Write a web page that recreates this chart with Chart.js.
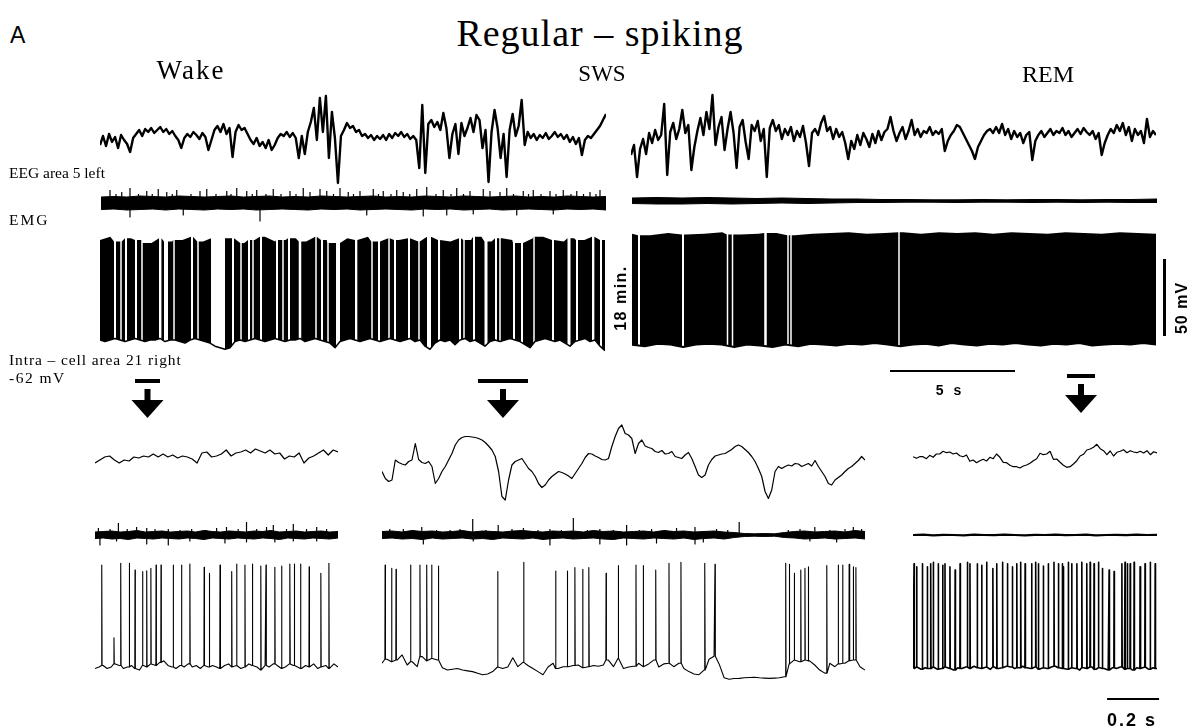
<!DOCTYPE html>
<html lang="en">
<head>
<meta charset="utf-8">
<title>Regular – spiking</title>
<script src="https://cdn.jsdelivr.net/npm/chart.js@4.4.1/dist/chart.umd.min.js"></script>
<style>
  html, body { margin: 0; padding: 0; background: #fff; }
  #page { position: relative; width: 1194px; height: 728px; overflow: hidden; background: #fff; }
  #page canvas { position: absolute; z-index: 1; }
  .lbl { position: absolute; white-space: nowrap; line-height: 1; color: #000; z-index: 5; }
  .serif { font-family: "Liberation Serif", "Times New Roman", serif; }
  .bold { font-family: "Liberation Sans", Arial, sans-serif; font-weight: bold; }
  .rot { text-align: center; transform: rotate(-90deg); }
</style>
</head>
<body>
<div id="page">
  <div class="lbl" style="left:10px;top:24px;font-family:'Liberation Sans',Arial,sans-serif;font-size:23px">A</div>
  <div class="lbl serif" style="left:350px;width:500px;text-align:center;top:14px;font-size:38px;letter-spacing:1px">Regular – spiking</div>
  <div class="lbl serif" style="left:121px;width:140px;text-align:center;top:57px;font-size:27px;letter-spacing:2px">Wake</div>
  <div class="lbl serif" style="left:542px;width:120px;text-align:center;top:62px;font-size:23px">SWS</div>
  <div class="lbl serif" style="left:988px;width:120px;text-align:center;top:62px;font-size:24px">REM</div>
  <div class="lbl serif" style="left:9px;top:165px;font-size:15.5px">EEG area 5 left</div>
  <div class="lbl serif" style="left:9px;top:212px;font-size:15.5px;letter-spacing:2px">EMG</div>
  <div class="lbl serif" style="left:9px;top:352px;font-size:15.5px;letter-spacing:0.9px">Intra – cell area 21 right</div>
  <div class="lbl serif" style="left:9px;top:370px;font-size:15.5px;letter-spacing:1.5px">-62 mV</div>
  <div class="lbl bold rot" style="left:581px;top:290px;width:80px;height:16px;font-size:16px;line-height:16px;letter-spacing:1.5px">18 min.</div>
  <div class="lbl bold rot" style="left:1142px;top:300px;width:80px;height:16px;font-size:16px;line-height:16px;letter-spacing:1px">50 mV</div>
  <div class="lbl bold" style="left:910px;width:80px;text-align:center;top:383px;font-size:14px;letter-spacing:3px">5 s</div>
  <div class="lbl bold" style="left:1107px;top:711px;font-size:18px;letter-spacing:2px">0.2 s</div>
</div>

<script>
const page = document.getElementById('page');

// ---------- slow sweep: Wake + SWS (left) and REM 18 min later (right) ----------
const wakeSwsDur = 20.2;   // s
const remDur = 20.96;      // s

// EEG area 5 (arbitrary units, up = positive)
const eegWakeSws = [-3,6,-4,8,0,5,-6,7,2,-2,-10,4,
  8,12,6,13,10,14,9,12,15,10,13,8,11,6,2,
  -6,4,8,5,10,7,3,9,5,-8,2,
  12,16,10,18,8,14,-15,10,17,12,14,8,
  2,-2,4,-4,0,-6,2,-8,-3,4,
  8,6,10,5,9,4,-16,6,-12,10,
  20,34,2,44,10,46,-16,30,4,-41,6,
  12,19,14,16,10,12,6,8,4,7,2,6,
  3,7,2,8,4,9,6,10,5,8,3,6,2,
  -26,37,-31,18,22,15,20,12,29,14,-16,8,
  18,-12,19,6,14,24,10,27,22,-6,12,-40,
  10,32,14,-16,8,-35,12,28,6,16,42,-3,
  10,4,8,2,7,4,9,3,6,10,5,8,
  3,7,0,5,-2,4,-13,2,6,4,8,12,16,22,28];
const eegRem = [-18,-8,-40,-12,-2,-17,4,-6,7,-3,2,33,
  -38,5,14,-2,8,27,4,12,-33,-10,6,
  19,2,25,8,42,-8,10,20,
  -13,8,25,4,-31,10,17,-5,-22,12,6,16,-4,8,-40,9,17,
  6,12,-2,8,2,10,-4,6,0,11,-6,-29,4,8,2,14,21,6,10,-2,8,0,5,-6,
  -22,-4,-12,2,-8,4,-2,-10,3,-6,6,-3,5,8,20,6,-4,
  4,10,-2,6,17,2,8,0,6,4,10,2,6,3,8,-14,-4,2,
  6,12,10,4,-2,-8,-14,-22,-10,-4,2,6,8,4,
  10,4,13,2,8,-2,6,0,4,-6,2,5,-23,-4,2,6,0,4,8,2,
  6,4,9,2,6,0,4,8,3,9,5,2,6,-2,4,-18,-6,2,8,4,
  12,6,14,2,10,-4,8,2,6,-6,18,0,6,2];

// EMG: band edges plus single deflections [time s, amplitude]
const emgWakeSwsUp = [6,6.5,6,7,6.5,6,7,6.5,6,6.5, 7,6,6.5,7,6,6.5,6,7,6.5,6, 6.5,7,6,6.5,6,7,6.5,6,7,6.5, 6,6.5,7,6,6.5,6,7,6.5,6,6.5];
const emgWakeSwsDn = [-6.5,-6,-7,-6.5,-6,-7,-6,-6.5,-7,-6, -6.5,-6,-7,-6.5,-6,-6.5,-7,-6,-6.5,-6, -7,-6.5,-6,-6.5,-7,-6,-6.5,-6,-7,-6.5, -6,-7,-6.5,-6,-6.5,-7,-6,-6.5,-6,-7];
const emgWakeSwsTicks = [[0.36,13],[0.6,9],[0.83,11],[1.16,15],[1.16,-14],[1.5,9],[1.83,12],[2.05,9],[2.29,14],[2.63,11],
  [2.85,9],[3.03,13],[3.29,-12],[3.6,9],[3.96,12],[4.23,14],[4.6,9],[5.03,12],[5.2,9],[5.43,15],[5.83,12],[6.05,9],
  [6.23,13],[6.36,-18],[6.6,9],[6.89,14],[7.2,9],[7.56,12],[7.8,9],[8.09,15],[8.36,11],[8.76,14],[9.03,12],[9.3,9],
  [9.56,15],[9.89,11],[10.1,9],[10.36,12],[10.63,-12],[10.89,14],[11.1,9],[11.29,12],[11.6,9],[11.83,13],[12.09,11],
  [12.35,9],[12.63,14],[12.89,-13],[13.03,16],[13.4,9],[13.69,13],[13.83,-12],[14.0,9],[14.23,15],[14.5,9],[14.76,12],
  [14.89,-11],[15.29,14],[15.56,12],[15.96,11],[16.23,15],[16.5,9],[16.63,-12],[16.89,12],[17.1,9],[17.29,13],[17.6,9],
  [17.96,12],[18.09,-11],[18.2,9],[18.49,13],[18.8,9],[19.03,12],[19.3,9],[19.56,11],[19.8,9],[19.96,13]];
const emgRemUp = [3,3.5,3,3.5,3,2.5,3,2.5,2,2,1.5,1.5,1.2,1.2,1.5,1.2,1.5,1.5,1.2,1.5,1.5,2];
const emgRemDn = [-2.5,-3,-3,-2.5,-3,-2.5,-2,-2.5,-2,-1.5,-1.5,-1.2,-1.2,-1.5,-1.2,-1.2,-1.5,-1.2,-1.5,-1.2,-1.5,-1.5];

// intracellular, mV: spike tops, membrane floor, silent gaps [start, end] s
const intraWakeSwsTop = [3,5,2,4,3,1,4,2,3,5,2,4,3,4,1,3,5,2,3,4,2,5,3,1,4,3,5,2,4,3,4,2,5,3,2,4,3,5,2,4,3,1,4,5,3,2,4,3,5,3];
const intraWakeSwsBase = [-62,-63,-62,-61,-62,-63,-62,-61,-62,-63,-62,-62,-61,-63,-62,-62,-63,-64,-62,-61,-62,
  -63,-64,-66,-67,-68,-67,-63,-62,-63,-62,
  -61,-62,-63,-62,-61,-62,-63,-62,-62,-61,-63,-62,-61,-62,-63,-64,
  -67,-63,-62,-61,-62,-63,-62,-61,-62,-63,-62,-61,-62,-63,
  -62,-61,-63,-62,-66,-68,-64,-62,-63,-62,
  -65,-62,-61,-63,-62,-64,-66,-63,-62,-63,
  -62,-61,-62,-63,-65,-67,-63,-62,-61,-62,-63,-62,
  -64,-66,-63,-62,-61,-63,-62,-66,-69];
const intraWakeSwsGaps = [[0.56,0.64],[0.81,0.87],[1.00,1.08],[1.40,1.48],[1.65,1.71],[2.36,2.44],[2.56,2.72],[2.93,2.99],
  [3.64,3.72],[3.89,3.95],[4.44,5.00],[5.28,5.36],[5.61,5.67],[5.92,6.00],[6.09,6.15],[6.40,6.48],[7.04,7.12],[7.29,7.35],
  [7.52,7.60],[7.95,8.05],[8.61,8.67],[8.84,8.92],[9.09,9.15],[9.44,9.60],[10.20,10.28],[10.85,10.91],[11.12,11.20],
  [11.53,11.59],[11.76,11.84],[12.32,12.40],[12.73,12.79],[13.08,13.24],[13.52,13.60],[14.36,14.44],[14.53,14.59],
  [14.92,15.00],[15.38,15.50],[15.80,15.88],[15.97,16.03],[16.52,16.60],[16.84,16.92],[17.33,17.39],[18.08,18.16],
  [18.70,18.82],[19.04,19.12],[19.68,19.76],[20.00,20.08]];
const intraRemTop = [7,6,7.5,6.5,7,8,6.5,7,7.5,6,7,7.5,8,7,7.5,8,7,8,7.5,8,7,8,7.5,7,8,7.5,7,8,7.5,7];
const intraRemBase = [-65,-66,-64.5,-65,-66.5,-65,-64.5,-65,-66.5,-65,-65.5,-66.5,-65,-66,-64.5,-65,-65.5,-64.5,-65,-64,-65,
  -66,-65,-64.5,-65.5,-64,-65,-65.5,-64.5,-65,-64,-65,-65.5,-64.5,-65,-64,-65.5,-65,-64.5,-65,-64,-65];
const intraRemGaps = [[0.24,0.32],[2.00,2.08],[3.79,3.85],[3.99,4.05],[5.29,5.39],[6.21,6.27],[6.33,6.39],[10.65,10.71]];

const wakeSwsMarks = [[1.4, 2.4], [15.12, 17.12]];   // segments expanded below, s
const remMark = [17.4, 18.52];
const timeBar = [10.32, 15.32];                       // 5 s
const mvBar = [-59.4, -9.4];                          // 50 mV

// ---------- expanded segments ----------
const wakeDur = 0.935, swsDur = 1.858, remZoomDur = 0.938;   // s

const eegWake = [-5,-2,1,2,-2,-5,-2,-3,1,0,2,1,4,1,4,1,3,0,2,1,-1,-5,5,6,1,2,4,8,2,5,6,8,5,9,7,5,8,4,5,-1,2,1,5,-5,0,2,5,8,3,8,6];
const eegSws = [-11.5,-18.5,-21.5,-20,0,-2.5,-4,-5,-1.5,0,16.5,0.5,-2.5,-3.5,-1.5,-6.5,-23.5,-18.5,-11.5,-6.5,
  0,6.5,15,20,22.5,23.5,23.5,23,22.5,21.5,20,17.5,14,10,3.5,-11.5,-36.5,-40,-20,-5,
  -1.5,0,1.5,-3.5,-8.5,-11.5,-16.5,-23.5,-27.5,-25,-20,-16.5,-14,-11.5,-12.5,-14,-16,-18.5,-13.5,-8.5,
  -3.5,2.5,6.5,6,4,2.5,0.5,0,1.5,13.5,23.5,31.5,35,26.5,25,21.5,6.5,16.5,20,14,
  12.5,11.5,8.5,7.5,9.5,6,6.5,8.5,3.5,2.5,1.5,5,7.5,1.5,-6.5,-15,-17.5,-15,-5,0.5,
  4,5,6,6.5,8.5,10.5,13.5,15,13.5,10.5,7.5,3.5,-1.5,-8.5,-16.5,-31.5,-38.5,-30,-11.5,-6.5,
  -8.5,-6.5,-5,-6,-3.5,-4,-6.5,-5,-3.5,-6,-0.5,-6.5,-11.5,-16.5,-23.5,-25,-20,-17.5,-15,-11.5,
  -8.5,-6.5,-3.5,-0.5,3.5,0];
const eegRemZoom = [0.3,-1.3,0.3,0.3,-1.7,1.7,-0.3,3,3,5.7,4.3,5,3,4,1.3,0.3,2,-4.3,-3,-5.7,
  -3.7,-2.3,-4,-0.3,-1.7,3,-0.3,-5.3,-5.7,-8.3,-9.7,-9.7,-11,-9,-8,-6.3,-3.7,-1.7,3.7,2.3,
  3,5.7,-2.3,-2,-5.3,-8.3,-10.3,-9.7,-7,-3.7,1,2.7,7,8,9.7,12.7,8.3,6.3,2.3,6,
  1,4.7,5.7,7.3,4.3,6.3,5,4.3,5.7,4,6.3,2.3,5.3,4];

const emgWakeUp = [3,3.5,4,3,3.5,4.5,3,3.5,4,3, 3.5,4,3,4.5,3.5,3,4,3.5,3,4, 3.5,4.5,3,3.5,4,3,3.5,4,3,3.5];
const emgWakeDn = [-3.5,-3,-4,-3.5,-4.5,-3,-3.5,-4,-3,-3.5, -4,-3,-3.5,-4.5,-3,-3.5,-4,-3,-3.5,-4, -3,-3.5,-4.5,-3,-3.5,-4,-3,-3.5,-4,-3];
const emgWakeTicks = [[0.013,7],[0.019,-10],[0.058,6],[0.083,-6],[0.090,12],[0.124,6],[0.160,8],[0.199,7],[0.199,-9],
  [0.231,6],[0.282,6],[0.282,-10],[0.327,5],[0.365,-6],[0.372,6],[0.429,5],[0.468,7],[0.500,-8],[0.506,8],[0.551,6],
  [0.583,13],[0.583,-7],[0.622,6],[0.660,8],[0.686,10],[0.692,-7],[0.737,6],[0.763,11],[0.763,-6],[0.814,6],[0.853,8],
  [0.853,-6],[0.891,6]];
const emgSwsUp = [3.5,4,3,4.5,3.5,4,3,3.5,4.5,3, 4,3.5,3,4,4.5,3.5,3,4,3.5,4, 3,4.5,3.5,4,3,3.5,4,3,4.5,3.5,
  4,3,3.5,4,3,2.5,1.5,1.2,1.5,1.2, 2.5,3.5,4,3,3.5,4,3,4.5,3.5];
const emgSwsDn = [-3.5,-3,-4,-3.5,-4.5,-3,-4,-3.5,-3,-4, -3.5,-4.5,-3,-3.5,-4,-3,-4.5,-3.5,-3,-4, -3.5,-3,-4,-4.5,-3,-3.5,-4,-3,-3.5,-4,
  -3,-4.5,-3.5,-3,-4,-2.5,-1.5,-1.2,-1.5,-1.2, -2.5,-3,-4,-3.5,-3,-4,-3.5,-3,-4];
const emgSwsTicks = [[0.030,6],[0.082,6],[0.120,5],[0.153,8],[0.159,-9],[0.210,5],[0.262,5],[0.300,6],[0.349,16],[0.351,-6],
  [0.400,5],[0.447,10],[0.500,6],[0.544,7],[0.600,5],[0.646,6],[0.646,-10],[0.690,5],[0.736,17],[0.790,5],[0.838,6],
  [0.838,-9],[0.890,5],[0.941,10],[0.941,-10],[0.990,5],[1.037,6],[1.056,-8],[1.090,5],[1.133,7],[1.204,8],[1.204,-9],
  [1.236,-7],[1.287,6],[1.330,5],[1.374,13],[1.563,5],[1.608,6],[1.646,-6],[1.665,8],[1.723,5],[1.749,-7],[1.781,6],
  [1.813,8],[1.845,6]];
const emgRemZoom = [0,0.4,-0.3,0.2,0,-0.4,0.3,0,-0.2,0.4,0,-0.3,0.2,0,0.3,-0.2,0,0.4,-0.3,0,0.2,-0.2,0.3,0,0.1];

// membrane potential (mV) between spikes, spike times (s) and spike peaks (mV)
const vmWake = [-63,-62,-61,-63,-62,-60,-61,-63,-62,-61,-63,-64,-61,-62,-60,-61,-59,-58,-61,-62,-63,-61,-62,-60,-62,-61,-63,-61,-62,-61,
  -62,-63,-61,-60,-62,-61,-63,-62,-60,-61,-62,-64,-61,-62,-60,-61,-63,-62,-60,-61,-62,-63,-61,-62,-60,-63,-62,-61,-63,-60,-62];
const spikeTWake = [0.026,0.073,0.099,0.132,0.154,0.183,0.199,0.215,0.235,0.254,0.301,0.333,0.365,0.420,0.440,
  0.481,0.526,0.545,0.577,0.605,0.638,0.658,0.692,0.718,0.750,0.767,0.791,0.824,0.869,0.900];
const spikePkWake = [4.2,-43,5.3,5.3,1,-0.1,0.5,2.1,4.2,4.2,4.2,4.2,4.9,2.7,-1.2,4.2,-0.1,4.9,4.2,4.9,3.6,4.2,2.7,3.6,4.9,4.9,4.9,3.1,-1.2,5.3];

const vmSws = [-59.6,-57,-58.6,-57.5,-54.2,-60.7,-58.6,-61.8,-55.3,-58,-56.5,-57.5,-62.5,-64,-63.5,-63,-64,-64.5,-65,-66,
  -67,-66.5,-65,-62,-63,-62,-56,-61.8,-59,-61,-63,-65,-67,-62,-59.6,-63,-61.8,-61.8,-61,-60.7,
  -62.5,-61.8,-61,-61.5,-60.7,-57.5,-61.8,-56.3,-63,-62,-61.5,-59.6,-61.8,-60,-57.5,-62,-60,-59.6,-61.8,-59.6,
  -63,-65,-66.5,-67,-64,-57,-55,-60,-69,-70,-69.5,-69.4,-69,-68.8,-68.7,-69,-69.2,-69.4,-69.2,-69,
  -68.3,-60,-57.5,-58.6,-57.5,-58,-60.7,-64,-66,-59.6,-61.8,-60,-59.6,-58,-57.5,-61.8,-64];
const spikeTSws = [0.012,0.037,0.054,0.110,0.146,0.172,0.191,0.217,0.445,0.545,0.668,0.713,0.742,0.772,0.796,0.862,0.909,0.977,
  1.005,1.053,1.104,1.150,1.242,1.281,1.553,1.567,1.586,1.611,1.627,1.640,1.711,1.755,1.772,1.797,1.813,1.823];
const spikePkSws = [4.2,2.1,1.4,4.2,4.2,4.2,4.2,3.6,-0.1,6.0,0.3,0.3,2.5,1.4,2.5,-1.2,3.8,4.2,3.8,1.0,5.3,6.0,5.3,4.7,
  5.3,4.7,-1.2,1.0,2.1,3.1,3.8,4.2,4.2,4.7,3.1,2.5];

const vmRem = [-63,-62,-63.5,-62.5,-63,-62,-63.5,-63,-62,-63,-64,-62.5,-63,-62,-63,-61.5,-62.5,-63,-62,-63.5,-62,-63,-62.5,-61.5,-62,
  -63,-62.5,-61.5,-62.5,-63,-62,-63.5,-62.5,-63,-62,-61.5,-62.5,-63,-63.5,-62.5,-63,-64,-62.5,-63,-62,-63.5,-62.5,-63,-64,-62.5,
  -63,-62,-63.5,-63,-64,-62.5,-63,-62,-63.5,-62.5,-63];
const spikeTRem = [0.004,0.014,0.036,0.055,0.068,0.078,0.097,0.114,0.123,0.142,0.162,0.181,0.209,0.219,0.247,0.264,0.283,0.307,
  0.322,0.344,0.363,0.382,0.399,0.414,0.431,0.456,0.472,0.482,0.501,0.520,0.542,0.559,0.574,0.578,0.597,0.610,0.630,0.649,
  0.668,0.681,0.696,0.713,0.728,0.754,0.773,0.803,0.815,0.824,0.835,0.850,0.873,0.892,0.912,0.931];
const spikePkRem = [5,3,5,3,5,6,5,4,5,3, 1,5,6,5,5,4,6,2,5,6, 5,3,5,6,5,5,6,5,3.5,5, 6,5,5,3,6,5,5,6,5,6, 5,6,2,1,0,5,6,5,5,6, 3,5,6,5];
const secBar = [0.746, 0.946];   // 0.2 s

// ---------- helpers ----------
const INTRA_TOP = [-70.44, 12.68];
const INTRA_BOTTOM = [-76.94, 13.97];

function series(values, dur) {
  const dt = dur / (values.length - 1);
  return values.map((v, i) => ({ x: i * dt, y: v }));
}

function line(data, extra) {
  return Object.assign({ data, borderColor: '#000', borderWidth: 1, pointRadius: 0, fill: false,
    tension: 0, borderJoinStyle: 'round' }, extra || {});
}

// upper edge of a compressed spike record, dropping to the floor in silent gaps
function blockEdge(tops, dur, gaps, floor) {
  const dt = dur / (tops.length - 1);
  const pts = [];
  let g = 0;
  tops.forEach((v, i) => {
    const t = i * dt;
    while (g < gaps.length && gaps[g][0] <= t) {
      const [a, b] = gaps[g];
      pts.push({ x: a, y: v }, { x: a, y: floor }, { x: b, y: floor }, { x: b, y: v });
      g++;
    }
    if (!gaps.some(([a, b]) => t > a && t < b)) pts.push({ x: t, y: v });
  });
  return pts;
}

// membrane trace with action potentials inserted at the given times
function spikeTrace(base, dur, times, peaks) {
  const dt = dur / (base.length - 1);
  const pts = base.map((v, i) => ({ x: i * dt, y: v }))
    .filter(p => !times.some(t => Math.abs(p.x - t) < 0.002));
  times.forEach((t, k) => {
    const b = base[Math.min(base.length - 1, Math.round(t / dt))];
    pts.push({ x: t - 0.0008, y: b }, { x: t, y: peaks[k] }, { x: t + 0.0012, y: b });
  });
  return pts.sort((p, q) => p.x - q.x);
}

// EMG: filled band between two edges, with single deflections drawn on top
function emg(up, dn, dur, ticks) {
  const sets = [
    line(series(up, dur), { fill: '+1', backgroundColor: '#000' }),
    line(series(dn, dur))
  ];
  if (ticks) {
    const pts = [];
    ticks.forEach(([t, a]) => pts.push({ x: t, y: 0 }, { x: t, y: a }, { x: t, y: null }));
    sets.unshift(line(pts, { borderWidth: 1.2, spanGaps: false }));
  }
  return sets;
}

function addTrace(box, xMax, yRange, datasets, pad, plugin) {
  pad = Object.assign({ top: 4, right: 4, bottom: 4, left: 4 }, pad || {});
  const cv = document.createElement('canvas');
  const w = box.w + pad.left + pad.right, h = box.h + pad.top + pad.bottom;
  cv.width = w; cv.height = h;
  cv.style.left = (box.x - pad.left) + 'px';
  cv.style.top = (box.y - pad.top) + 'px';
  cv.style.width = w + 'px'; cv.style.height = h + 'px';
  page.appendChild(cv);
  return new Chart(cv.getContext('2d'), {
    type: 'line',
    data: { datasets },
    options: {
      responsive: false, animation: false, devicePixelRatio: 1,
      layout: { padding: pad },
      plugins: { legend: { display: false }, tooltip: { enabled: false } },
      scales: {
        x: { type: 'linear', display: false, min: 0, max: xMax },
        y: { type: 'linear', display: false, min: yRange[0], max: yRange[1] }
      }
    },
    plugins: plugin ? [plugin] : []
  });
}

function drawMarker(ctx, x, seg, yBar) {
  const a = x.getPixelForValue(seg[0]), b = x.getPixelForValue(seg[1]), c = (a + b) / 2;
  ctx.fillRect(a, yBar - 2, b - a, 4);
  ctx.fillRect(c - 3, yBar + 8, 6, 12);
  ctx.beginPath();
  ctx.moveTo(c - 16, yBar + 19);
  ctx.lineTo(c + 16, yBar + 19);
  ctx.lineTo(c, yBar + 37);
  ctx.closePath();
  ctx.fill();
}

// ---------- slow sweep ----------
addTrace({ x: 100, y: 85, w: 506, h: 110 }, wakeSwsDur, [-53, 57],
  [line(series(eegWakeSws, wakeSwsDur), { borderWidth: 2.4 })]);
addTrace({ x: 631, y: 85, w: 525, h: 110 }, remDur, [-58, 52],
  [line(series(eegRem, remDur), { borderWidth: 2.4 })]);

addTrace({ x: 101, y: 183, w: 505, h: 40 }, wakeSwsDur, [-20, 20], emg(emgWakeSwsUp, emgWakeSwsDn, wakeSwsDur, emgWakeSwsTicks));
addTrace({ x: 632, y: 185, w: 525, h: 35 }, remDur, [-19, 16], emg(emgRemUp, emgRemDn, remDur));

addTrace({ x: 100, y: 225, w: 505, h: 128 }, wakeSwsDur, INTRA_TOP, [
  line(series(intraWakeSwsBase, wakeSwsDur), { borderWidth: 1.5, fill: 'start', backgroundColor: '#fff' }),
  line(blockEdge(intraWakeSwsTop, wakeSwsDur, intraWakeSwsGaps, INTRA_TOP[0]),
    { borderColor: 'rgba(0,0,0,0)', fill: { value: INTRA_TOP[0] }, backgroundColor: '#000' })
], { bottom: 72 }, {
  id: 'wakeSwsMarks',
  afterDatasetsDraw(chart) {
    const ctx = chart.ctx;
    ctx.save();
    ctx.fillStyle = '#000';
    wakeSwsMarks.forEach(seg => drawMarker(ctx, chart.scales.x, seg, chart.chartArea.bottom + 28));
    ctx.restore();
  }
});

addTrace({ x: 632, y: 225, w: 524, h: 128 }, remDur, INTRA_TOP, [
  line(series(intraRemBase, remDur), { borderWidth: 2, fill: 'start', backgroundColor: '#fff' }),
  line(blockEdge(intraRemTop, remDur, intraRemGaps, INTRA_TOP[0]),
    { borderColor: 'rgba(0,0,0,0)', fill: { value: INTRA_TOP[0] }, backgroundColor: '#000' })
], { bottom: 67, right: 16 }, {
  id: 'remMarks',
  afterDatasetsDraw(chart) {
    const { ctx, chartArea: area } = chart;
    const { x, y } = chart.scales;
    ctx.save();
    ctx.fillStyle = '#000';
    drawMarker(ctx, x, remMark, area.bottom + 23);
    const a = x.getPixelForValue(timeBar[0]), b = x.getPixelForValue(timeBar[1]);
    ctx.fillRect(a, area.bottom + 17, b - a, 2);
    const top = y.getPixelForValue(mvBar[1]), bot = y.getPixelForValue(mvBar[0]);
    ctx.fillRect(area.right + 7, top, 3, bot - top);
    ctx.restore();
  }
});

// ---------- expanded segments ----------
addTrace({ x: 95, y: 415, w: 243, h: 90 }, wakeDur, [-47, 43], [line(series(eegWake, wakeDur), { borderWidth: 1.2 })]);
addTrace({ x: 382, y: 415, w: 483, h: 100 }, swsDur, [-55, 45], [line(series(eegSws, swsDur), { borderWidth: 1.2 })]);
addTrace({ x: 913, y: 415, w: 244, h: 90 }, remZoomDur, [-48, 42], [line(series(eegRemZoom, remZoomDur), { borderWidth: 1.2 })]);

addTrace({ x: 95, y: 515, w: 243, h: 40 }, wakeDur, [-20, 20], emg(emgWakeUp, emgWakeDn, wakeDur, emgWakeTicks));
addTrace({ x: 382, y: 515, w: 483, h: 40 }, swsDur, [-20, 20], emg(emgSwsUp, emgSwsDn, swsDur, emgSwsTicks));
addTrace({ x: 913, y: 515, w: 244, h: 40 }, remZoomDur, [-20, 20], [line(series(emgRemZoom, remZoomDur), { borderWidth: 2.2 })]);

addTrace({ x: 95, y: 550, w: 243, h: 140 }, wakeDur, INTRA_BOTTOM,
  [line(spikeTrace(vmWake, wakeDur, spikeTWake, spikePkWake), { borderWidth: 1.1 })]);
addTrace({ x: 382, y: 550, w: 483, h: 140 }, swsDur, INTRA_BOTTOM,
  [line(spikeTrace(vmSws, swsDur, spikeTSws, spikePkSws), { borderWidth: 1.1 })]);
addTrace({ x: 913, y: 550, w: 244, h: 140 }, remZoomDur, INTRA_BOTTOM,
  [line(spikeTrace(vmRem, remZoomDur, spikeTRem, spikePkRem), { borderWidth: 1.6 })],
  { right: 10, bottom: 15 }, {
    id: 'secBar',
    afterDatasetsDraw(chart) {
      const { ctx, chartArea: area } = chart;
      const x = chart.scales.x;
      const a = x.getPixelForValue(secBar[0]), b = x.getPixelForValue(secBar[1]);
      ctx.save();
      ctx.fillStyle = '#000';
      ctx.fillRect(a, area.bottom + 8, b - a, 2);
      ctx.restore();
    }
  });
</script>
</body>
</html>
